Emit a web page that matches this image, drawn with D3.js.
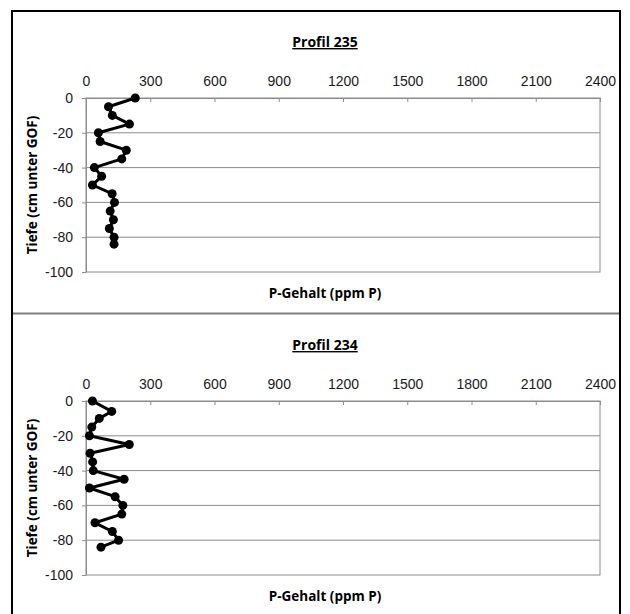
<!DOCTYPE html>
<html lang="en">
<head>
    <meta charset="UTF-8">
    <title>P-Gehalt Profile</title>
    <script src="https://d3js.org/d3.v7.min.js"></script>
    <style>
        body { margin: 0; background: #fff; }
        .title { font-family: "Open Sans", "Noto Sans", sans-serif; font-weight: bold; font-size: 14px; text-decoration: underline; }
        .axis-title { font-family: "Open Sans", "Noto Sans", sans-serif; font-weight: bold; font-size: 13.5px; }
    </style>
</head>
<body>
<svg width="630" height="614"></svg>
<script>
    const xTicks = [0, 300, 600, 900, 1200, 1500, 1800, 2100, 2400];
    const yTicks = [0, -20, -40, -60, -80, -100];

    // Profil 235
    const depth235 = [0, -5, -10, -15, -20, -25, -30, -35, -40, -45, -50, -55, -60, -65, -70, -75, -80, -84];
    const p235 = [230, 105, 123, 203, 58, 66, 188, 167, 39, 73, 30, 122, 133, 113, 128, 109, 131, 131];

    // Profil 234
    const depth234 = [0, -6, -10, -15, -20, -25, -30, -35, -40, -45, -50, -55, -60, -65, -70, -75, -80, -84];
    const p234 = [30, 120, 62, 27, 16, 202, 19, 31, 34, 178, 16, 136, 172, 167, 42, 123, 152, 70];

    const svg = d3.select("svg");

    function styleTicks(axis) {
        axis.select(".domain").attr("stroke", "#8c8c8c");
        axis.selectAll(".tick line").attr("stroke", "#8c8c8c");
        axis.selectAll(".tick text")
            .attr("font-family", "'Liberation Sans', Arial, sans-serif")
            .attr("font-size", "14px")
            .attr("fill", "#1a1a1a");
    }

    function drawPanel(top, title, depth, values) {
        const g = svg.append("g").attr("transform", "translate(0," + top + ")");
        const x = d3.scaleLinear().domain([0, 2400]).range([86, 600]);
        const y = d3.scaleLinear().domain([0, -100]).range([88, 262]);

        // gridlines
        g.selectAll(".grid").data(yTicks.filter(d => d !== 0 && d !== -100))
            .enter().append("line")
            .attr("x1", x(0)).attr("x2", x(2400))
            .attr("y1", d => y(d)).attr("y2", d => y(d))
            .attr("stroke", "#8c8c8c").attr("stroke-width", 1);

        // plot border
        g.append("rect")
            .attr("x", x(0)).attr("y", y(0))
            .attr("width", x(2400) - x(0)).attr("height", y(-100) - y(0))
            .attr("fill", "none").attr("stroke", "#8c8c8c").attr("stroke-width", 1);

        const xAxis = g.append("g")
            .attr("transform", "translate(0," + y(0) + ")")
            .call(d3.axisTop(x).tickValues(xTicks).tickFormat(d => String(d))
                .tickSizeInner(-4).tickSizeOuter(0).tickPadding(12));
        styleTicks(xAxis);

        const yAxis = g.append("g")
            .attr("transform", "translate(" + x(0) + ",0)")
            .call(d3.axisLeft(y).tickValues(yTicks).tickFormat(d => String(d))
                .tickSizeInner(4).tickSizeOuter(0).tickPadding(9));
        styleTicks(yAxis);

        const pts = depth.map((d, i) => ({ d: d, v: values[i] }));

        g.append("path")
            .datum(pts)
            .attr("fill", "none")
            .attr("stroke", "#000")
            .attr("stroke-width", 3)
            .attr("stroke-linejoin", "round")
            .attr("d", d3.line().x(p => x(p.v)).y(p => y(p.d)));

        g.selectAll(".pt").data(pts)
            .enter().append("circle")
            .attr("cx", p => x(p.v))
            .attr("cy", p => y(p.d))
            .attr("r", 4.5)
            .attr("fill", "#000");

        g.append("text").attr("class", "title")
            .attr("x", 325).attr("y", 37)
            .attr("text-anchor", "middle")
            .text(title);

        g.append("text").attr("class", "axis-title")
            .attr("x", 325).attr("y", 288)
            .attr("text-anchor", "middle")
            .text("P-Gehalt (ppm P)");

        g.append("text").attr("class", "axis-title")
            .attr("transform", "translate(37," + (y(-50)) + ") rotate(-90)")
            .attr("text-anchor", "middle")
            .text("Tiefe (cm unter GOF)");
    }

    drawPanel(10, "Profil 235", depth235, p235);
    drawPanel(313, "Profil 234", depth234, p234);

    // frame
    svg.append("line").attr("x1", 12).attr("x2", 12).attr("y1", 10).attr("y2", 614)
        .attr("stroke", "#000").attr("stroke-width", 2);
    svg.append("line").attr("x1", 620).attr("x2", 620).attr("y1", 10).attr("y2", 614)
        .attr("stroke", "#000").attr("stroke-width", 2);
    svg.append("line").attr("x1", 11).attr("x2", 621).attr("y1", 11).attr("y2", 11)
        .attr("stroke", "#000").attr("stroke-width", 2);
    svg.append("line").attr("x1", 13).attr("x2", 619).attr("y1", 313.5).attr("y2", 313.5)
        .attr("stroke", "#808080").attr("stroke-width", 2);
</script>
</body>
</html>
